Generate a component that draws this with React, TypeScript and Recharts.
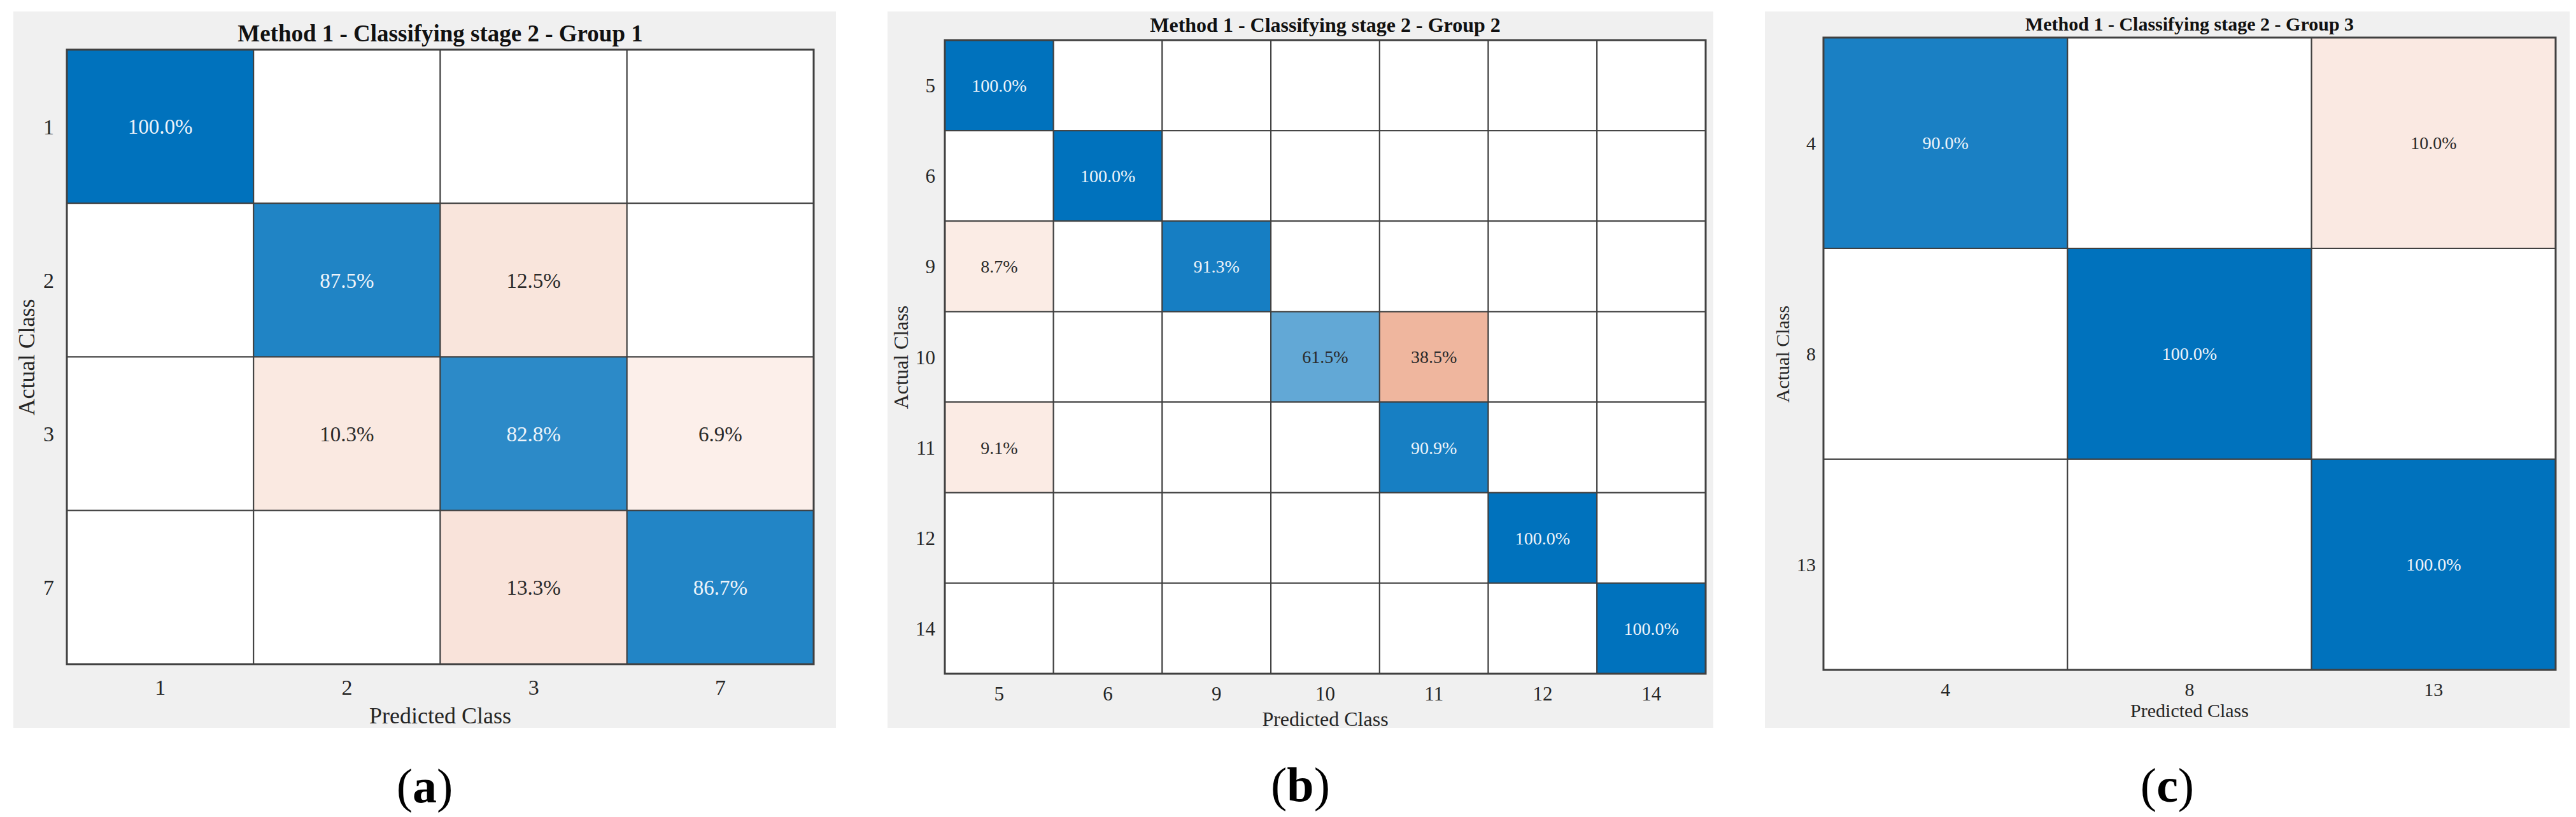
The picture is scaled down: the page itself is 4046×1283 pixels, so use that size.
import React from 'react';
import { ComposedChart, XAxis, YAxis, ReferenceArea, Scatter } from 'recharts';

// Confusion matrices (row = actual class, column = predicted class), values in %
const group1Classes = ['1', '2', '3', '7'];
const group1Matrix = [
  [100, 0, 0, 0],
  [0, 87.5, 12.5, 0],
  [0, 10.3, 82.8, 6.9],
  [0, 0, 13.3, 86.7],
];

const group2Classes = ['5', '6', '9', '10', '11', '12', '14'];
const group2Matrix = [
  [100, 0, 0, 0, 0, 0, 0],
  [0, 100, 0, 0, 0, 0, 0],
  [8.7, 0, 91.3, 0, 0, 0, 0],
  [0, 0, 0, 61.5, 38.5, 0, 0],
  [9.1, 0, 0, 0, 90.9, 0, 0],
  [0, 0, 0, 0, 0, 100, 0],
  [0, 0, 0, 0, 0, 0, 100],
];

const group3Classes = ['4', '8', '13'];
const group3Matrix = [
  [90, 0, 10],
  [0, 100, 0],
  [0, 0, 100],
];

const titles = [
  'Method 1 - Classifying stage 2 - Group 1',
  'Method 1 - Classifying stage 2 - Group 2',
  'Method 1 - Classifying stage 2 - Group 3',
];
const captions = ['a', 'b', 'c'];

const FONT = "'Liberation Serif', 'Times New Roman', Times, serif";
const TEXT = '#262626';
const GRID = '#404040';

interface PanelLayout {
  box: number[]; // gray figure area: left, top, right, bottom (page px)
  plot: number[]; // matrix area: left, top, right, bottom (page px)
  titleY: number;
  titleFont: number;
  tickFont: number;
  cellFont: number;
  labelFont: number;
  yTickGap: number;
  xTickY: number;
  yLabelX: number;
  xLabelY: number;
  captionY: number;
}

const layouts: PanelLayout[] = [
  {
    box: [21, 18, 1313, 1143], plot: [105, 78, 1278, 1043],
    titleY: 52, titleFont: 37, tickFont: 34, cellFont: 33, labelFont: 36,
    yTickGap: 20, xTickY: 1080, yLabelX: 42, xLabelY: 1124, captionY: 1234,
  },
  {
    box: [1394, 18, 2691, 1143], plot: [1484, 63, 2679, 1058],
    titleY: 39, titleFont: 32, tickFont: 31, cellFont: 28, labelFont: 32,
    yTickGap: 15, xTickY: 1090, yLabelX: 1415, xLabelY: 1129, captionY: 1232,
  },
  {
    box: [2772, 18, 4036, 1143], plot: [2864, 59, 4014, 1052],
    titleY: 38, titleFont: 30, tickFont: 30, cellFont: 28, labelFont: 30,
    yTickGap: 12, xTickY: 1083, yLabelX: 2800, xLabelY: 1116, captionY: 1233,
  },
];

const BLUE = [0, 114, 189];
const ORANGE = [217, 83, 25];

const mix = (target: number[], t: number) =>
  `rgb(${target.map((c) => Math.round(255 - (255 - c) * t)).join(',')})`;

const cellFill = (value: number, diagonal: boolean) => {
  if (value <= 0) return '#ffffff';
  return diagonal ? mix(BLUE, value / 100) : mix(ORANGE, Math.pow(value / 100, 0.9));
};

const centered: React.CSSProperties = {
  position: 'absolute',
  transform: 'translate(-50%, -50%)',
  whiteSpace: 'nowrap',
  lineHeight: 1,
  fontFamily: FONT,
  color: TEXT,
};

interface PanelProps {
  classes: string[];
  matrix: number[][];
  title: string;
  layout: PanelLayout;
}

const ConfusionPanel = ({ classes, matrix, title, layout }: PanelProps) => {
  const n = classes.length;
  const [gl, gt, gr, gb] = layout.box;
  const [pl, pt, pr, pb] = layout.plot;
  const w = gr - gl;
  const h = gb - gt;
  const centers = classes.map((_, i) => i + 0.5);
  const cells = matrix.flatMap((row, i) => row.map((value, j) => ({ row: i, col: j, value })));
  const points = cells.map((c) => ({ x: c.col + 0.5, y: c.row + 0.5 }));
  const xTickMargin = Math.round(layout.xTickY - 0.38 * layout.tickFont - pb);
  const midX = (pl + pr) / 2 - gl;
  const tickStyle = { fontSize: layout.tickFont, fill: TEXT, fontFamily: FONT };

  return (
    <div style={{ position: 'absolute', left: gl, top: gt, width: w, height: h, background: '#f0f0f0' }}>
      <ComposedChart
        width={w}
        height={h}
        margin={{ top: pt - gt, right: gr - pr, bottom: 0, left: 0 }}
      >
        <XAxis
          type="number"
          dataKey="x"
          domain={[0, n]}
          ticks={centers}
          interval={0}
          tickFormatter={(v: number) => classes[Math.floor(v)]}
          height={gb - pb}
          axisLine={false}
          tickLine={false}
          tickSize={0}
          tickMargin={xTickMargin}
          tick={tickStyle}
          allowDataOverflow
        />
        <YAxis
          type="number"
          dataKey="y"
          domain={[0, n]}
          reversed
          ticks={centers}
          interval={0}
          tickFormatter={(v: number) => classes[Math.floor(v)]}
          width={pl - gl}
          axisLine={false}
          tickLine={false}
          tickSize={0}
          tickMargin={layout.yTickGap}
          tick={tickStyle}
          allowDataOverflow
        />
        {cells.map((c) => {
          const diagonal = c.row === c.col;
          const dark = diagonal && c.value > 70;
          return (
            <ReferenceArea
              key={`${c.row}-${c.col}`}
              x1={c.col}
              x2={c.col + 1}
              y1={c.row}
              y2={c.row + 1}
              fill={cellFill(c.value, diagonal)}
              fillOpacity={1}
              stroke={GRID}
              strokeWidth={2}
              ifOverflow="visible"
              label={
                c.value > 0
                  ? {
                      value: `${c.value.toFixed(1)}%`,
                      position: 'center',
                      fill: dark ? '#eef4fa' : '#2a2a2a',
                      fontSize: layout.cellFont,
                      fontFamily: FONT,
                    }
                  : undefined
              }
            />
          );
        })}
        <ReferenceArea
          x1={0}
          x2={n}
          y1={0}
          y2={n}
          fill="none"
          stroke={GRID}
          strokeWidth={3}
          ifOverflow="visible"
        />
        <Scatter data={points} isAnimationActive={false} shape={() => <g />} />
      </ComposedChart>

      <div style={{ ...centered, left: midX, top: layout.titleY - gt, fontSize: layout.titleFont, fontWeight: 'bold', color: '#111' }}>
        {title}
      </div>
      <div style={{ ...centered, left: midX, top: layout.xLabelY - gt, fontSize: layout.labelFont }}>
        Predicted Class
      </div>
      <div
        style={{
          ...centered,
          left: layout.yLabelX - gl,
          top: (pt + pb) / 2 - gt,
          fontSize: layout.labelFont,
          transform: 'translate(-50%, -50%) rotate(-90deg)',
        }}
      >
        Actual Class
      </div>
    </div>
  );
};

const panels = [
  { classes: group1Classes, matrix: group1Matrix },
  { classes: group2Classes, matrix: group2Matrix },
  { classes: group3Classes, matrix: group3Matrix },
];

export default function App() {
  return (
    <div style={{ position: 'absolute', left: 0, top: 0, width: 4046, height: 1283, background: '#ffffff', fontFamily: FONT }}>
      {panels.map((p, i) => {
        const layout = layouts[i];
        const cx = (layout.box[0] + layout.box[2]) / 2;
        return (
          <React.Fragment key={i}>
            <ConfusionPanel classes={p.classes} matrix={p.matrix} title={titles[i]} layout={layout} />
            <div style={{ ...centered, left: cx, top: layout.captionY, fontSize: 76, color: '#000' }}>
              (<b>{captions[i]}</b>)
            </div>
          </React.Fragment>
        );
      })}
    </div>
  );
}
